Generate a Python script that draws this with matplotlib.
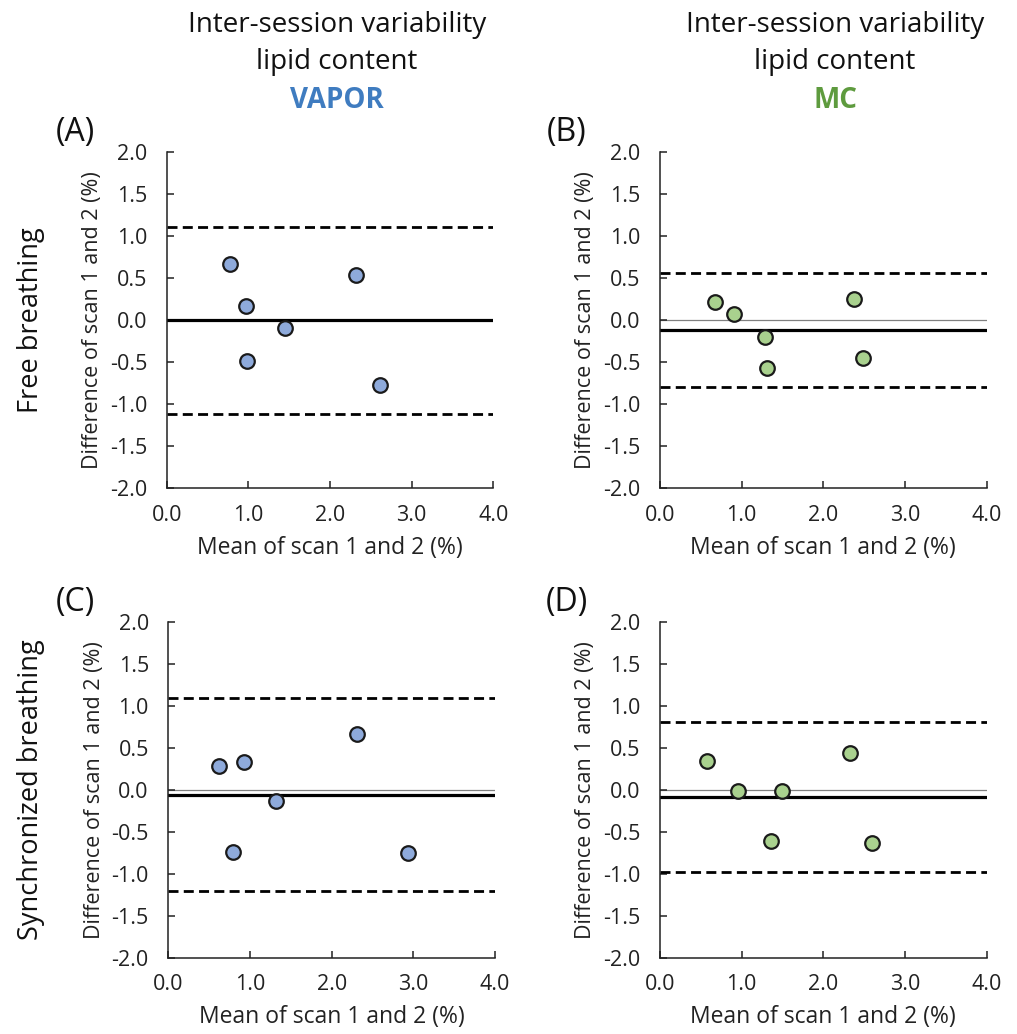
import matplotlib
matplotlib.use("Agg")
import matplotlib.pyplot as plt
import numpy as np

plt.rcParams['font.family'] = ['Open Sans', 'DejaVu Sans']

# ---- data ----
a_mean = [0.78, 0.97, 1.45, 0.98, 2.32, 2.61]
a_diff = [0.67, 0.17, -0.10, -0.49, 0.53, -0.77]
a_bias, a_loa = 0.0, [1.10, -1.12]

b_mean = [0.67, 0.90, 1.28, 1.31, 2.38, 2.49]
b_diff = [0.21, 0.07, -0.20, -0.57, 0.25, -0.45]
b_bias, b_loa = -0.115, [0.56, -0.80]

c_mean = [0.62, 0.93, 1.32, 0.79, 2.31, 2.93]
c_diff = [0.28, 0.33, -0.14, -0.74, 0.66, -0.75]
c_bias, c_loa = -0.06, [1.09, -1.21]

d_mean = [0.58, 0.955, 1.49, 1.36, 2.33, 2.59]
d_diff = [0.34, -0.02, -0.01, -0.61, 0.44, -0.635]
d_bias, d_loa = -0.083, [0.81, -0.98]

panel_labels = ["(A)", "(B)", "(C)", "(D)"]
col_titles = ["VAPOR", "MC"]
row_titles = ["Free breathing", "Synchronized breathing"]
x_ticks = [0, 1, 2, 3, 4]
y_ticks = [-2.0, -1.5, -1.0, -0.5, 0.0, 0.5, 1.0, 1.5, 2.0]

blue_fill, green_fill = "#8EAADB", "#A9D18E"
blue_txt, green_txt = "#3F7CC0", "#5E9B3E"

W, H = 1017, 1034
fig = plt.figure(figsize=(W / 100, H / 100), dpi=100)

def rect(x0, x1, ytop, ybot):
    return [x0 / W, 1 - ybot / H, (x1 - x0) / W, (ybot - ytop) / H]

rects = [rect(166.7, 493.3, 151.7, 488.3),
         rect(660.0, 986.7, 151.7, 488.3),
         rect(168.3, 495.0, 621.7, 957.7),
         rect(660.0, 986.7, 621.7, 957.7)]

panels = [(a_mean, a_diff, a_bias, a_loa, blue_fill),
          (b_mean, b_diff, b_bias, b_loa, green_fill),
          (c_mean, c_diff, c_bias, c_loa, blue_fill),
          (d_mean, d_diff, d_bias, d_loa, green_fill)]

for i, (r, (xm, yd, bias, loa, fc)) in enumerate(zip(rects, panels)):
    ax = fig.add_axes(r)
    ax.set_xlim(0, 4)
    ax.set_ylim(-2, 2)
    ax.axhline(0, color="#808080", lw=0.9, zorder=1)
    ax.axhline(bias, color="black", lw=2.3, zorder=2)
    for v in loa:
        ax.axhline(v, color="black", lw=2.0, linestyle=(0, (3.6, 1.9)), zorder=2)
    ax.scatter(xm, yd, s=110, facecolor=fc, edgecolor="#1a1a1a", linewidth=1.6, zorder=3,
               clip_on=False)
    ax.set_xticks(x_ticks)
    ax.set_xticklabels([f"{v:.1f}" for v in x_ticks])
    ax.set_yticks(y_ticks)
    ax.set_yticklabels([f"{v:.1f}" for v in y_ticks])
    for s in ["top", "right"]:
        ax.spines[s].set_visible(False)
    for s in ["left", "bottom"]:
        ax.spines[s].set_linewidth(1.1)
        ax.spines[s].set_color("#222222")
    ax.tick_params(axis="both", direction="in", length=5, width=1.1, color="#222222",
                   labelsize=15.5, labelcolor="#222222")
    ax.tick_params(axis="y", pad=14)
    ax.tick_params(axis="x", pad=12)
    ax.set_xlabel("Mean of scan 1 and 2 (%)", fontsize=16.5, color="#222222", labelpad=7)
    ax.set_ylabel("Difference of scan 1 and 2 (%)", fontsize=15.5, color="#222222", labelpad=5)

# panel labels
for lbl, (px, py) in zip(panel_labels, [(75, 133), (567, 133), (75, 603), (567, 603)]):
    fig.text(px / W, 1 - py / H, lbl, fontsize=23, ha="center", va="center", color="#111111")

# column titles
for ctitle, ccol, cx in zip(col_titles, [blue_txt, green_txt], [337, 835]):
    fig.text(cx / W, 1 - 25 / H, "Inter-session variability", fontsize=20,
             ha="center", va="center", color="#111111")
    fig.text(cx / W, 1 - 62 / H, "lipid content", fontsize=20,
             ha="center", va="center", color="#111111")
    fig.text(cx / W, 1 - 101 / H, ctitle, fontsize=20, fontweight="bold",
             ha="center", va="center", color=ccol)

# row titles
for rtitle, ry in zip(row_titles, [320, 790]):
    fig.text(31 / W, 1 - ry / H, rtitle, fontsize=19.5, rotation=90,
             ha="center", va="center", color="#111111")

fig.savefig("out.png", dpi=100)
